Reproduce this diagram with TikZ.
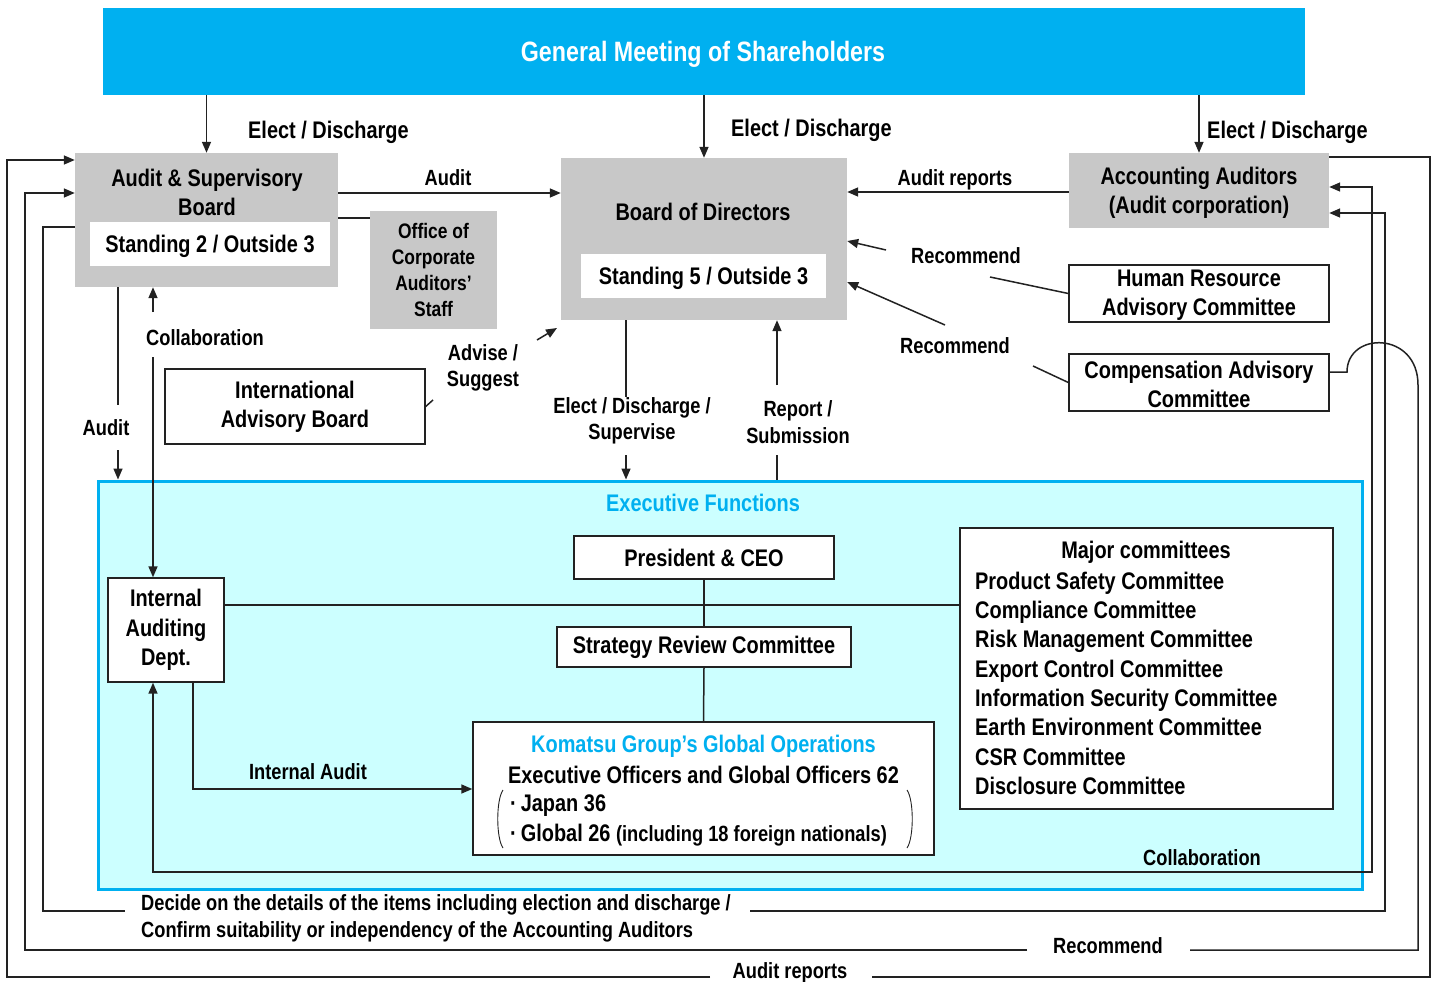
\documentclass[tikz,border=0pt]{standalone}
\usepackage{fontspec}
\setmainfont{Liberation Sans}[FakeStretch=0.83]
\usetikzlibrary{arrows.meta,calc}
\definecolor{gmsblue}{HTML}{00B0F0}
\definecolor{execfill}{HTML}{CCFFFF}
\definecolor{boxgray}{HTML}{C8C8C8}
\definecolor{ln}{HTML}{222222}
\begin{document}
\begin{tikzpicture}[x=1pt,y=-1pt,
  every node/.style={font=\bfseries\fontsize{24}{29}\selectfont, inner sep=0pt, align=center},
  lab/.style={font=\bfseries\fontsize{22}{26.5}\selectfont},
  graybox/.style={fill=boxgray, draw=none},
  wbox/.style={draw=ln, line width=1.4pt, fill=white},
  conn/.style={draw=ln, line width=1.5pt},
  arr/.style={conn, -{Triangle[length=11pt,width=9pt]}},
  arrtwo/.style={conn, {Triangle[length=11pt,width=9pt]}-{Triangle[length=11pt,width=9pt]}}]
\useasboundingbox (0,0) rectangle (1435,982);
\fill[white] (0,0) rectangle (1435,982);

% ---------- boxes ----------
\node[fill=gmsblue, minimum width=1202pt, minimum height=87pt] (gms) at (704,51.5) {};
\node[text=white, font=\bfseries\fontsize{28}{32}\selectfont, anchor=base] (gmst) at (703,62) {General Meeting of Shareholders};

\node[fill=execfill, draw=gmsblue, line width=3pt, minimum width=1264pt, minimum height=408pt] (exec) at (730,685) {};
\node[text=gmsblue] (exect) at (703,503) {Executive Functions};

\node[graybox, minimum width=263pt, minimum height=134pt] (asb) at (206.5,220) {};
\node (asbt) at (207,192) {Audit \& Supervisory\\Board};
\node[fill=white, minimum width=240pt, minimum height=44pt] (asbin) at (210,244) {};
\node (asbint) at (210,246.5) {Standing 2 / Outside 3};

\node[graybox, minimum width=127pt, minimum height=118pt, font=\bfseries\fontsize{21}{26}\selectfont] (ocas) at (433.5,269.5) {Office of\\Corporate\\Auditors’\\Staff};

\node[graybox, minimum width=286pt, minimum height=162pt] (bod) at (704,239) {};
\node (bodt) at (703,212) {Board of Directors};
\node[fill=white, minimum width=245pt, minimum height=44pt] (bodin) at (703.5,276) {};
\node (bodint) at (703.5,278.5) {Standing 5 / Outside 3};

\node[graybox, minimum width=260pt, minimum height=75pt] (aa) at (1199,190.5) {};
\node (aat) at (1199,192.5) {Accounting Auditors\\(Audit corporation)};
\node[wbox, minimum width=260pt, minimum height=57pt] (hr) at (1199,293.5) {};
\node (hrt) at (1199,295) {Human Resource\\Advisory Committee};
\node[wbox, minimum width=260pt, minimum height=57pt] (comp) at (1199,382.5) {};
\node (compt) at (1199,384) {Compensation Advisory\\Committee};
\node[wbox, minimum width=260pt, minimum height=75pt] (iab) at (295,406.5) {International\\Advisory Board};

\node[wbox, minimum width=260pt, minimum height=43pt] (ceo) at (704,557.5) {President \& CEO};
\node[wbox, minimum width=294pt, minimum height=40pt] (src) at (704,647) {Strategy Review Committee};
\node[wbox, minimum width=116pt, minimum height=104pt, font=\bfseries\fontsize{24}{29.5}\selectfont] (iad) at (166,630) {Internal\\Auditing\\Dept.};

\node[wbox, minimum width=461pt, minimum height=133pt] (kom) at (703.5,788.5) {};
\node[text=gmsblue] (komt) at (703.5,746) {Komatsu Group’s Global Operations};
\node (komone) at (703.5,775) {Executive Officers and Global Officers 62};
\node[anchor=west] (komtwo) at (510,806) {·\,Japan 36};
\node[anchor=west] (komthree) at (510,835) {·\,Global 26 {\fontsize{22}{26}\selectfont(including 18 foreign nationals)}};
\draw[ln, line width=0.9pt] (503,790) .. controls (496,800) and (496,838) .. (503,848);
\draw[ln, line width=0.9pt] (907,790) .. controls (914,800) and (914,838) .. (907,848);

\node[wbox, minimum width=373pt, minimum height=281pt] (maj) at (1146.5,668.5) {};
\node (majt) at (1146,552) {Major committees};
\foreach \t [count=\i] in {Product Safety Committee, Compliance Committee, Risk Management Committee,
  Export Control Committee, Information Security Committee, Earth Environment Committee,
  CSR Committee, Disclosure Committee}
  \node[anchor=base west] (mc\i) at (975,{560+29.3*\i}) {\t};

% ---------- coordinates for free ends ----------
\coordinate (yAud) at (340,193);
\coordinate (yOff) at (355,218);
\coordinate (yAR) at (950,192);
\coordinate (yMaj) at (600,605);
\coordinate (hrone) at (990,277);
\coordinate (hrtwo) at (886,250);
\coordinate (hrthree) at (848,241);
\coordinate (cpone) at (1033,366);
\coordinate (cptwo) at (945,325);
\coordinate (cpthree) at (848,282);
\coordinate (iabone) at (433,400);
\coordinate (iabtwo) at (537,340);
\coordinate (iabthree) at (557,328);
\coordinate (edone) at (626,397);
\coordinate (edtwo) at (626,455);
\coordinate (rsone) at (777,455);
\coordinate (rstwo) at (777,385);
\coordinate (laone) at (118,405);
\coordinate (latwo) at (118,450);
\coordinate (coone) at (153,312);
\coordinate (cotwo) at (153,357);
\coordinate (iaone) at (193,789);
\coordinate (clone) at (153,872);
\coordinate (cltwo) at (1372,872);
\coordinate (clthree) at (1372,187);
\coordinate (ddone) at (43,227);
\coordinate (ddtwo) at (43,911);
\coordinate (ddthree) at (125,911);
\coordinate (ddfour) at (750,911);
\coordinate (ddfive) at (1385,911);
\coordinate (ddsix) at (1385,213);
\coordinate (rcone) at (1347,372);
\coordinate (rctwo) at (1418,385);
\coordinate (rcthree) at (1418,950);
\coordinate (rcfour) at (1190,950);
\coordinate (rcfive) at (1027,950);
\coordinate (rcsix) at (25,950);
\coordinate (rcseven) at (25,193);
\coordinate (arone) at (1430,157);
\coordinate (artwo) at (1430,977);
\coordinate (arthree) at (872,977);
\coordinate (arfour) at (710,977);
\coordinate (arfive) at (7,977);
\coordinate (arsix) at (7,160);

% ---------- connectors ----------
\draw[arr] (gms.south -| asb.north) -- (asb.north);
\draw[arr] (gms.south -| bod.north) -- (bod.north);
\draw[arr] (gms.south -| aa.north) -- (aa.north);

\draw[arr] (asb.east |- yAud) -- (bod.west |- yAud);
\draw[conn] (asb.east |- yOff) -- (ocas.west |- yOff);
\draw[arr] (aa.west |- yAR) -- (bod.east |- yAR);

\draw[conn] (hr.west) -- (hrone);
\draw[arr] (hrtwo) -- (bod.east |- hrthree);
\draw[conn] (comp.west) -- (cpone);
\draw[arr] (cptwo) -- (bod.east |- cpthree);
\draw[conn] (iab.east) -- (iabone);
\draw[arr] (iabtwo) -- (iabthree);

\draw[conn] (bod.south -| edone) -- (edone);
\draw[arr] (edtwo) -- (exec.north -| edtwo);
\draw[conn] (exec.north -| rsone) -- (rsone);
\draw[arr] (rstwo) -- (bod.south -| rstwo);

\draw[conn] (asb.south -| laone) -- (laone);
\draw[arr] (latwo) -- (exec.north -| latwo);
\draw[arr] (coone) -- (asb.south -| coone);
\draw[arr] (cotwo) -- (iad.north -| cotwo);

\draw[arr] (iad.south -| iaone) -- (iaone) -- (kom.west |- iaone);
\draw[conn] (iad.east |- yMaj) -- (maj.west |- yMaj);
\draw[conn] (ceo.south) -- (src.north);
\draw[conn] (src.south) -- (kom.north);

\draw[arrtwo] (iad.south -| clone) -- (clone) -- (cltwo) -- (clthree) -- (aa.east |- clthree);
\draw[conn] (asb.west |- ddone) -- (ddone) -- (ddtwo) -- (ddthree);
\draw[arr] (ddfour) -- (ddfive) -- (ddsix) -- (aa.east |- ddsix);
\draw[conn] (comp.east |- rcone) -- (rcone) .. controls ($(rcone)+(0,-41)$) and ($(rctwo)+(0,-54)$) .. (rctwo) -- (rcthree) -- (rcfour);
\draw[arr] (rcfive) -- (rcsix) -- (rcseven) -- (asb.west |- rcseven);
\draw[conn] (aa.east |- arone) -- (arone) -- (artwo) -- (arthree);
\draw[arr] (arfour) -- (arfive) -- (arsix) -- (asb.west |- arsix);

% ---------- labels ----------
\node[anchor=west] (lgone) at (248,132) {Elect / Discharge};
\node[anchor=west] (lgtwo) at (731,130) {Elect / Discharge};
\node[anchor=west] (lgthree) at (1207,132) {Elect / Discharge};
\node[lab] (laud) at (448,178) {Audit};
\node[lab] (lar) at (955,180) {Audit reports};
\node[lab] (lrecone) at (966,256) {Recommend};
\node[lab] (lrectwo) at (955,346) {Recommend};
\node[lab] (lcolone) at (205,338) {Collaboration};
\node[lab] (laudtwo) at (106,428) {Audit};
\node[lab] (ladv) at (483,368) {Advise /\\Suggest};
\node[lab] (led) at (632,421) {Elect / Discharge /\\Supervise};
\node[lab] (lrs) at (798,422) {Report /\\Submission};
\node[lab] (lia) at (308,772) {Internal Audit};
\node[lab] (lcoltwo) at (1202,858) {Collaboration};
\node[lab, anchor=west, align=left] (ldec) at (141,918.5) {Decide on the details of the items including election and discharge /\\Confirm suitability or independency of the Accounting Auditors};
\node[lab] (lrecthree) at (1108,946) {Recommend};
\node[lab] (lartwo) at (790,973) {Audit reports};
\end{tikzpicture}
\end{document}
